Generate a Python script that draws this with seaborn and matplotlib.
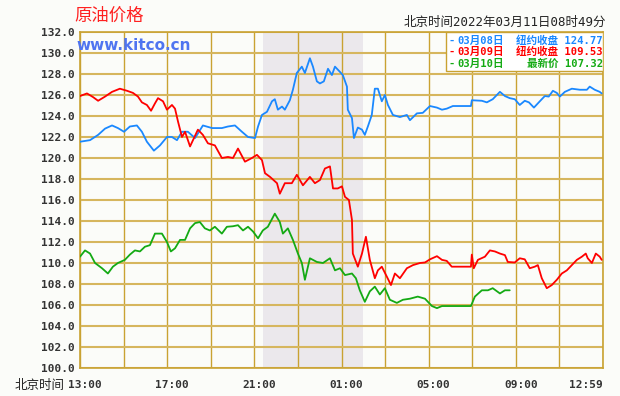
import matplotlib
matplotlib.use('Agg')
import matplotlib.pyplot as plt
import matplotlib.ticker as mticker
import matplotlib.transforms as mtransforms
from matplotlib.patches import Rectangle
import seaborn as sns
import pandas as pd

sns.set_theme(style="white")
MONO = ['DejaVu Sans Mono', 'Noto Sans CJK SC']
CJK = ['Noto Sans CJK SC', 'DejaVu Sans']
plt.rcParams['font.family'] = MONO

# hours since 13:00 Beijing time, price in USD/bbl
t_0308 = [0.00, 0.46, 0.83, 1.15, 1.47, 1.74, 2.02, 2.29, 2.61, 2.84, 3.07, 3.39,
          3.67, 3.99, 4.22, 4.45, 4.68, 4.95, 5.28, 5.64, 6.06, 6.51, 6.79, 7.11,
          7.43, 7.71, 8.03, 8.17, 8.35, 8.58, 8.81, 8.94, 9.08, 9.27, 9.40, 9.63,
          9.77, 9.95, 10.18, 10.32, 10.55, 10.69, 10.87, 11.01, 11.19, 11.38, 11.56,
          11.70, 11.93, 12.06, 12.25, 12.29, 12.48, 12.57, 12.75, 12.94, 13.07,
          13.21, 13.39, 13.53, 13.67, 13.85, 13.99, 14.13, 14.36, 14.68, 15.00,
          15.14, 15.46, 15.73, 16.06, 16.38, 16.61, 16.83, 17.11, 17.94, 17.98,
          18.44, 18.67, 18.94, 19.27, 19.50, 19.72, 19.95, 20.18, 20.41, 20.60,
          20.83, 21.10, 21.33, 21.51, 21.70, 21.88, 22.02, 22.25, 22.57, 22.94,
          23.26, 23.39, 23.62, 23.85, 23.94]
p_0308 = [121.55, 121.7, 122.2, 122.8, 123.1, 122.85, 122.5, 123.0, 123.1, 122.5,
          121.55, 120.7, 121.2, 122.0, 122.0, 121.7, 122.5, 122.5, 121.9, 123.1,
          122.85, 122.85, 123.0, 123.1, 122.5, 122.0, 121.9, 123.0, 124.1, 124.4,
          125.4, 125.6, 124.6, 124.9, 124.6, 125.5, 126.5, 128.1, 128.7, 128.1,
          129.5, 128.7, 127.3, 127.1, 127.3, 128.5, 127.9, 128.7, 128.2, 127.9,
          126.8, 124.6, 123.8, 121.9, 122.9, 122.7, 122.2, 123.0, 124.1, 126.6,
          126.6, 125.4, 126.0, 125.05, 124.1, 123.9, 124.1, 123.6, 124.25, 124.3,
          124.95, 124.8, 124.6, 124.7, 124.95, 124.95, 125.5, 125.45, 125.3, 125.6,
          126.3, 125.9, 125.7, 125.6, 125.05, 125.45, 125.3, 124.8, 125.4, 125.9,
          125.85, 126.4, 126.2, 125.85, 126.3, 126.6, 126.5, 126.5, 126.8, 126.5,
          126.3, 126.15]

t_0309 = [0.00, 0.32, 0.60, 0.83, 1.15, 1.47, 1.83, 2.16, 2.43, 2.66, 2.84, 3.07,
          3.26, 3.44, 3.58, 3.81, 3.99, 4.22, 4.36, 4.50, 4.68, 4.82, 5.05, 5.23,
          5.41, 5.64, 5.87, 6.19, 6.51, 6.79, 7.02, 7.25, 7.57, 7.89, 8.12, 8.35,
          8.49, 8.72, 9.04, 9.17, 9.40, 9.72, 9.95, 10.23, 10.55, 10.78, 11.01,
          11.24, 11.47, 11.61, 11.83, 12.02, 12.16, 12.34, 12.48, 12.52, 12.75,
          12.94, 13.12, 13.30, 13.53, 13.67, 13.85, 14.08, 14.27, 14.45, 14.68,
          15.00, 15.28, 15.60, 15.83, 16.06, 16.38, 16.61, 16.83, 17.06, 17.94,
          17.98, 18.07, 18.26, 18.58, 18.81, 19.04, 19.27, 19.50, 19.63, 19.95,
          20.18, 20.41, 20.64, 20.87, 21.01, 21.19, 21.42, 21.65, 21.88, 22.11,
          22.34, 22.57, 22.80, 23.03, 23.21, 23.30, 23.49, 23.67, 23.85, 23.94]
p_0309 = [125.9, 126.15, 125.8, 125.45, 125.85, 126.3, 126.6, 126.4, 126.2, 125.85,
          125.3, 125.05, 124.5, 125.2, 125.7, 125.4, 124.6, 125.05, 124.7, 123.45,
          122.0, 122.5, 121.1, 121.9, 122.7, 122.2, 121.4, 121.2, 120.0, 120.1,
          120.0, 120.9, 119.65, 120.0, 120.3, 119.8, 118.55, 118.2, 117.6, 116.6,
          117.6, 117.6, 118.4, 117.4, 118.2, 117.6, 117.9, 119.0, 119.2, 117.1,
          117.1, 117.3, 116.3, 116.0, 114.1, 110.9, 109.65, 110.9, 112.5, 110.3,
          108.55, 109.3, 109.65, 108.7, 107.9, 109.0, 108.55, 109.5, 109.8, 110.0,
          110.05, 110.35, 110.65, 110.3, 110.2, 109.65, 109.65, 110.8, 109.5, 110.3,
          110.6, 111.2, 111.1, 110.9, 110.75, 110.1, 110.05, 110.45, 110.35, 109.5,
          109.65, 109.8, 108.55, 107.6, 107.9, 108.4, 109.0, 109.3, 109.8, 110.3,
          110.6, 110.9, 110.45, 110.0, 110.9, 110.6, 110.3]

t_0310 = [0.00, 0.23, 0.46, 0.69, 1.01, 1.28, 1.51, 1.74, 2.06, 2.29, 2.52, 2.75,
          2.98, 3.21, 3.44, 3.76, 3.99, 4.17, 4.36, 4.59, 4.82, 5.05, 5.28, 5.50,
          5.73, 5.96, 6.19, 6.51, 6.74, 7.02, 7.25, 7.48, 7.71, 7.94, 8.17, 8.39,
          8.62, 8.94, 9.17, 9.31, 9.54, 9.77, 10.00, 10.18, 10.32, 10.55, 10.87,
          11.15, 11.47, 11.70, 11.93, 12.16, 12.48, 12.66, 12.84, 13.07, 13.30,
          13.53, 13.76, 13.99, 14.22, 14.54, 14.82, 15.14, 15.50, 15.83, 16.15,
          16.38, 16.61, 17.94, 18.12, 18.44, 18.72, 18.94, 19.27, 19.50, 19.72]
p_0310 = [110.6, 111.2, 110.9, 110.0, 109.5, 109.0, 109.65, 110.0, 110.3, 110.8,
          111.2, 111.1, 111.55, 111.7, 112.8, 112.8, 112.0, 111.1, 111.4, 112.2,
          112.2, 113.3, 113.8, 113.9, 113.3, 113.1, 113.45, 112.8, 113.45, 113.5,
          113.6, 113.1, 113.45, 113.0, 112.35, 113.1, 113.45, 114.7, 113.9, 112.8,
          113.3, 112.2, 110.9, 110.0, 108.4, 110.45, 110.1, 110.0, 110.45, 109.3,
          109.5, 108.85, 109.0, 108.55, 107.4, 106.3, 107.3, 107.75, 107.0, 107.6,
          106.5, 106.2, 106.5, 106.6, 106.8, 106.6, 105.9, 105.7, 105.9, 105.9,
          106.8, 107.4, 107.4, 107.6, 107.1, 107.4, 107.4]

days = ['03月08日', '03月09日', '03月10日']
day_colors = ['#1a88ff', '#ff0000', '#14aa14']
quote_labels = ['纽约收盘', '纽约收盘', '最新价']
quote_values = ['124.77', '109.53', '107.32']

x_tick_pos = [0, 4, 8, 12, 16, 20, 24]
x_tick_labels = ['13:00', '17:00', '21:00', '01:00', '05:00', '09:00', '12:59']
shade_span = (8.4, 13.0)  # NY session, 21:30-02:00

df = pd.concat([
    pd.DataFrame({'t': t_0308, 'price': p_0308, 'day': days[0]}),
    pd.DataFrame({'t': t_0309, 'price': p_0309, 'day': days[1]}),
    pd.DataFrame({'t': t_0310, 'price': p_0310, 'day': days[2]}),
])

BG = '#fbfcf9'
GOLD_H = '#d6b65e'
GOLD_V = '#c9a232'

fig = plt.figure(figsize=(6.2, 3.96), dpi=100, facecolor=BG)
ax = fig.add_axes([80 / 620, 1 - 368 / 396, 523 / 620, 336 / 396])
ax.set_facecolor(BG)

ax.axvspan(*shade_span, color='#ebe8ec', zorder=0, lw=0)

sns.lineplot(data=df, x='t', y='price', hue='day', palette=dict(zip(days, day_colors)),
             linewidth=1.3, legend=False, ax=ax, zorder=3)

ax.set_xlim(0, 24)
ax.set_ylim(100, 132)
ax.xaxis.set_major_locator(mticker.FixedLocator(x_tick_pos))
ax.xaxis.set_minor_locator(mticker.MultipleLocator(2))
ax.set_xticklabels(x_tick_labels)
ax.yaxis.set_major_locator(mticker.MultipleLocator(2))
ax.yaxis.set_major_formatter(mticker.StrMethodFormatter('{x:.1f}'))
ax.grid(True, axis='y', color=GOLD_H, lw=1.5, zorder=1)
ax.grid(True, axis='x', which='both', color=GOLD_V, lw=1.0, zorder=1)
ax.set_axisbelow(True)
for s in ax.spines.values():
    s.set_color(GOLD_V)
    s.set_linewidth(1.2)
ax.tick_params(axis='both', length=0, labelsize=8, labelcolor='#333333')
ax.tick_params(axis='x', pad=9)
ax.tick_params(axis='y', pad=4)
shift = mtransforms.ScaledTranslation(5 / 100, 0, fig.dpi_scale_trans)
xlabs = ax.get_xticklabels()
for lab in xlabs + ax.get_yticklabels():
    lab.set_fontweight('bold')
for lab in xlabs[:-1]:
    lab.set_transform(lab.get_transform() + shift)
xlabs[-1].set_ha('right')
ax.set_xlabel('')
ax.set_ylabel('')

# legend box
ax.add_patch(Rectangle((366 / 523, 297 / 336), 157 / 523, 39 / 336, transform=ax.transAxes,
                       facecolor='white', edgecolor=GOLD_V, lw=1.0, zorder=5))
for i, (d, c, q, v) in enumerate(zip(days, day_colors, quote_labels, quote_values)):
    y = 1 - (40.5 + i * 11.7) / 396
    fig.text(448 / 620, y, '-', color=c, fontsize=7.5, fontweight='bold',
             ha='left', va='center', family=MONO, zorder=6)
    fig.text(457 / 620, y, d, color=c, fontsize=7.6, fontweight='bold',
             ha='left', va='center', family=MONO, zorder=6)
    fig.text(603 / 620, y, q + ' ' + v, color=c, fontsize=7.6, fontweight='bold',
             ha='right', va='center', family=MONO, zorder=6)

fig.text(74 / 620, 1 - 16 / 396, '原油价格', color='#ff2020', fontsize=12.5,
         ha='left', va='center', family=CJK)
fig.text(76 / 620, 1 - 45 / 396, 'www.kitco.cn', color='#4f74f0', fontsize=11,
         fontweight='bold', ha='left', va='center', family='DejaVu Sans', zorder=7)
fig.text(606 / 620, 1 - 22 / 396, '北京时间2022年03月11日08时49分', color='#222222',
         fontsize=9, ha='right', va='center', family=MONO)
fig.text(15 / 620, 1 - 385 / 396, '北京时间', color='#222222', fontsize=9,
         ha='left', va='center', family=CJK)

fig.savefig('out.png', dpi=100, facecolor=BG)
